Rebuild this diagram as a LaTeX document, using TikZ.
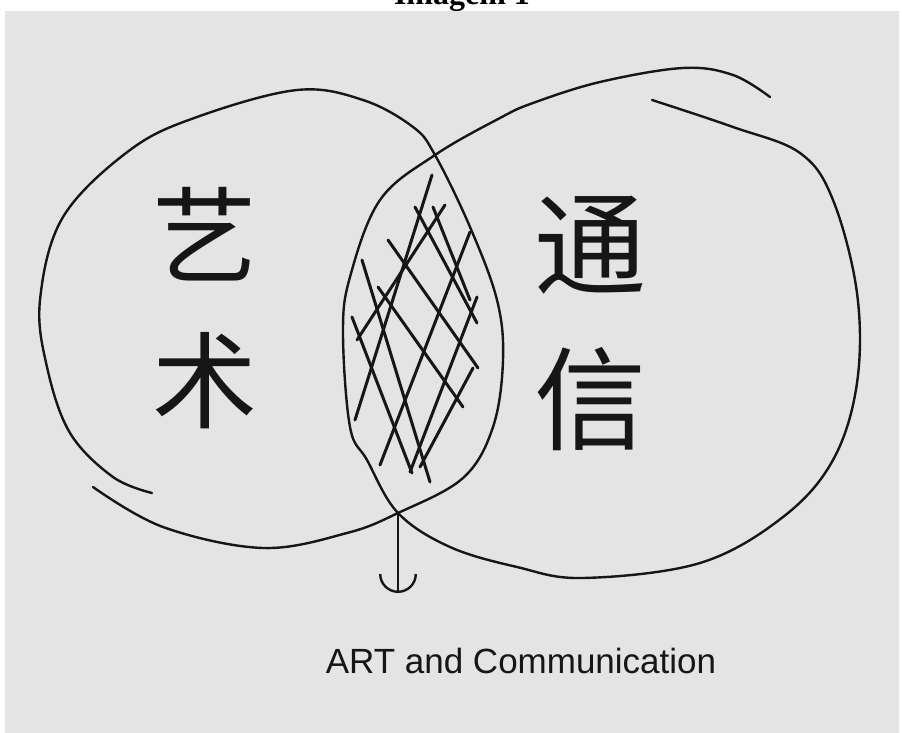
\documentclass[tikz,border=0pt]{standalone}
\usepackage{fontspec}
\setmainfont{Liberation Serif}
\newfontfamily\cjk{Noto Sans CJK SC}
\newfontfamily\elyazi{Liberation Sans}
\usetikzlibrary{arrows.meta}
\definecolor{kagitGri}{HTML}{E4E4E4}
\definecolor{murekkep}{HTML}{161616}

\begin{document}
\begin{tikzpicture}[x=1pt,y=-1pt,
  kume/.style={murekkep,line width=2.4pt,line cap=round,line join=round},
  tarama/.style={murekkep,line width=3pt,line cap=round},
  hanzi/.style={murekkep,align=center,inner sep=0pt}]
\useasboundingbox (0,0) rectangle (902,733);
\clip (0,0) rectangle (902,733);
\fill[kagitGri] (5,11) rectangle (899,733);
\node[font=\bfseries\fontsize{32}{38}\selectfont,anchor=base] (baslik) at (462,5) {Imagem 1};
% sol kume
\draw[kume] plot[smooth,tension=0.6] coordinates {(93,487) (163,527) (263,548) (347,533) (398,513) (463,478) (493,427) (503,360) (497,300) (470,227) (435,155) (413,127) (363,100) (297,90) (197,117) (130,150) (63,217) (40,300) (47,367) (70,433) (113,477) (152,493)};
% sag kume
\draw[kume] plot[smooth,tension=0.6] coordinates {(652,100) (733,127) (800,153) (833,200) (857,293) (857,383) (833,460) (783,517) (700,563) (583,578) (517,567) (450,547) (398,513) (367,460) (350,427) (343,333) (350,277) (380,200) (435,155) (500,118) (533,103) (600,82) (683,68) (733,75) (770,97)};
% kesisim taramasi
\foreach \xa/\ya/\xb/\yb in {355/420/432/175, 380/465/470/232, 410/472/477/297, 357/340/445/205, 420/467/473/368}
  \draw[tarama] (\xa,\ya) -- (\xb,\yb);
\foreach \xa/\ya/\xb/\yb in {362/260/430/482, 388/240/478/368, 415/207/477/323, 433/207/470/300, 352/317/412/473, 378/287/463/407}
  \draw[tarama] (\xa,\ya) -- (\xb,\yb);
\node[hanzi,font=\cjk\fontsize{105}{145}\selectfont] (sanat) at (205,308) {艺\\术};
\node[hanzi,font=\cjk\fontsize{112}{155}\selectfont] (iletisim) at (590,323) {通\\信};
% ok
\coordinate (kesisim) at (398,513);
\coordinate (okUcu) at (398,593);
\draw[kume,-{Arc Barb[width=38pt,length=19pt]}] (kesisim) -- (okUcu);
\node[murekkep,font=\elyazi\fontsize{35}{40}\selectfont,anchor=base] (etiket) at (521,673) {ART and Communication};
\end{tikzpicture}
\end{document}
